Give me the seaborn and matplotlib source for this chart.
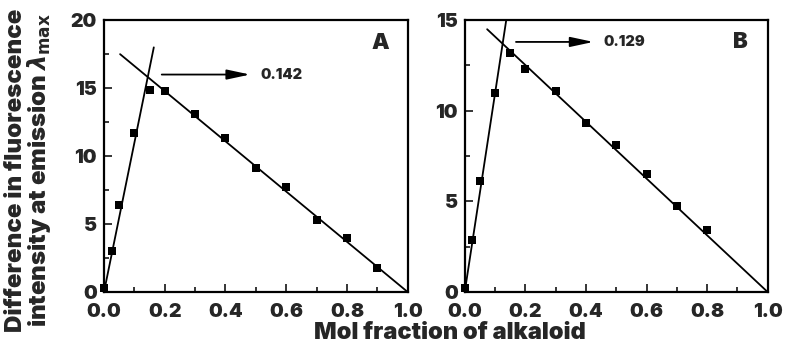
import numpy as np
import matplotlib
matplotlib.use("Agg")
import matplotlib.pyplot as plt
from matplotlib.ticker import MultipleLocator, FormatStrFormatter
import seaborn as sns

# Panel A data
xA = [0.0, 0.025, 0.05, 0.1, 0.15, 0.2, 0.3, 0.4, 0.5, 0.6, 0.7, 0.8, 0.9]
yA = [0.3, 3.0, 6.4, 11.7, 14.9, 14.8, 13.1, 11.3, 9.1, 7.7, 5.3, 4.0, 1.8]
riseA_x = [0.0, 0.164]
riseA_y = [0.0, 18.0]
fallA_x = [0.053, 1.0]
fallA_y = [17.5, 0.0]

# Panel B data
xB = [0.0, 0.025, 0.05, 0.1, 0.15, 0.2, 0.3, 0.4, 0.5, 0.6, 0.7, 0.8]
yB = [0.2, 2.85, 6.1, 11.0, 13.2, 12.3, 11.1, 9.3, 8.1, 6.5, 4.75, 3.45]
riseB_x = [0.0, 0.137]
riseB_y = [0.0, 15.0]
fallB_x = [0.074, 1.0]
fallB_y = [14.5, 0.0]

sns.set_style("ticks")
plt.rcParams['font.family'] = ['Inter', 'DejaVu Sans']
plt.rcParams['font.weight'] = 'black'
plt.rcParams['mathtext.fontset'] = 'dejavusans'

fig = plt.figure(figsize=(7.89, 3.54), dpi=100)
axA = fig.add_axes([0.1318, 0.175, 0.385, 0.768])
axB = fig.add_axes([0.589, 0.175, 0.384, 0.768])


def draw(ax, x, y, rx, ry, fx, fy, ymax, arrow_y, arrow_x0, arrow_x1, val, letter, letter_y):
    sns.lineplot(x=rx, y=ry, ax=ax, color='black', lw=1.3)
    sns.lineplot(x=fx, y=fy, ax=ax, color='black', lw=1.3)
    sns.scatterplot(x=x, y=y, ax=ax, marker='s', s=40, color='black',
                    edgecolor='black', linewidth=0, zorder=3, clip_on=False)
    ax.set_xlim(0, 1.0)
    ax.set_ylim(0, ymax)
    ax.xaxis.set_major_locator(MultipleLocator(0.2))
    ax.xaxis.set_minor_locator(MultipleLocator(0.1))
    ax.yaxis.set_major_locator(MultipleLocator(5))
    ax.yaxis.set_minor_locator(MultipleLocator(2.5))
    ax.xaxis.set_major_formatter(FormatStrFormatter('%.1f'))
    ax.tick_params(which='major', direction='in', length=6, width=1.3,
                   labelsize=14, top=False, right=False)
    ax.tick_params(axis='x', which='major', pad=8)
    ax.tick_params(axis='y', which='major', pad=5)
    ax.tick_params(which='minor', direction='in', length=3.5, width=1.3,
                   top=False, right=False)
    for sp in ax.spines.values():
        sp.set_visible(True)
        sp.set_linewidth(1.6)
        sp.set_color('black')
    ax.annotate('', xy=(arrow_x1, arrow_y), xytext=(arrow_x0, arrow_y),
                arrowprops=dict(arrowstyle='-|>,head_length=1.4,head_width=0.3',
                                color='black', lw=1.3))
    ax.text(arrow_x1 + 0.025, arrow_y, val, fontsize=10.5,
            va='center', ha='left')
    ax.text(0.91, letter_y, letter, fontsize=16,
            va='center', ha='center')
    ax.set_xlabel('')
    ax.set_ylabel('')


draw(axA, xA, yA, riseA_x, riseA_y, fallA_x, fallA_y, 20, 16.0, 0.181, 0.49,
     '0.142', 'A', 18.3)
draw(axB, xB, yB, riseB_x, riseB_y, fallB_x, fallB_y, 15, 13.8, 0.16, 0.434,
     '0.129', 'B', 13.8)

fig.text(450 / 789, 1 - 333 / 354, 'Mol fraction of alkaloid', ha='center',
         va='center', fontsize=17)
fig.text(29 / 789, 1 - 170 / 354,
         'Difference in fluorescence\nintensity at emission $\\lambda_{\\rm max}$',
         ha='center', va='center', rotation=90, fontsize=17.3,
         linespacing=0.95)

fig.savefig('out.png', dpi=100)
